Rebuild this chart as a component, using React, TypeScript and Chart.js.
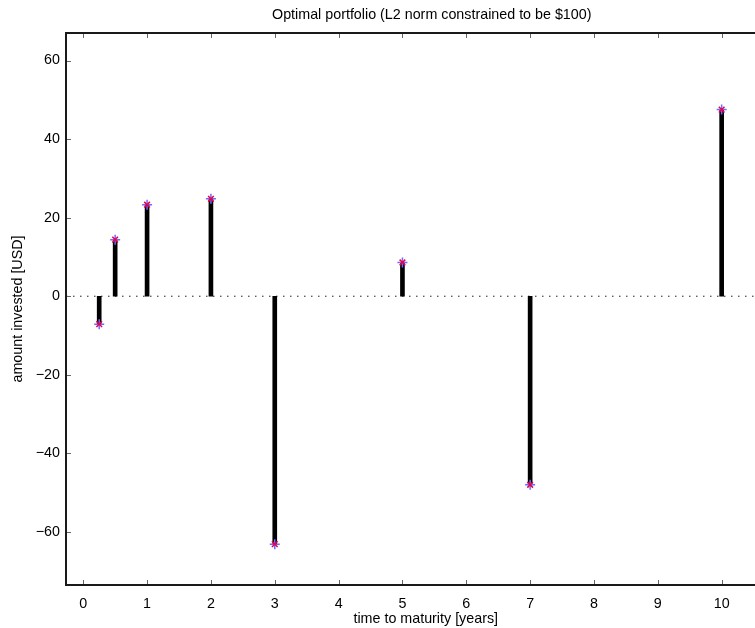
import React, { useEffect, useRef } from "react";
import { Chart, registerables } from "chart.js";

Chart.register(...registerables);

const maturities = [0.25, 0.5, 1, 2, 3, 5, 7, 10];
const amounts = [-7.1, 14.4, 23.3, 24.8, -63.1, 8.6, -48.0, 47.5];
const xTicks = [0, 1, 2, 3, 4, 5, 6, 7, 8, 9, 10];
const yTicks = [-60, -40, -20, 0, 20, 40, 60];
const X_MIN = -0.27;
const X_MAX = 11.0;
const Y_MIN = -73.5;
const Y_MAX = 67;
const TITLE = "Optimal portfolio (L2 norm constrained to be $100)";
const X_LABEL = "time to maturity [years]";
const Y_LABEL = "amount invested [USD]";

const FONT = "'Liberation Sans', Arial, Helvetica, sans-serif";
const FS = 14.3;

const axesPlugin = {
  id: "matlabAxes",
  afterDatasetsDraw(chart: any) {
    const { ctx, chartArea, scales } = chart;
    const { left, right, top, bottom } = chartArea;
    const xs = scales.x;
    const ys = scales.y;
    ctx.save();
    ctx.strokeStyle = "#666";
    ctx.lineWidth = 1;
    const tl = 5;
    ctx.beginPath();
    xTicks.forEach((t) => {
      const px = Math.round(xs.getPixelForValue(t)) + 0.5;
      if (px < left || px > right) return;
      ctx.moveTo(px, bottom);
      ctx.lineTo(px, bottom - tl);
      ctx.moveTo(px, top);
      ctx.lineTo(px, top + tl);
    });
    yTicks.forEach((t) => {
      const py = Math.round(ys.getPixelForValue(t)) + 0.5;
      ctx.moveTo(left, py);
      ctx.lineTo(left + tl, py);
    });
    ctx.stroke();
    ctx.strokeStyle = "#1a1a1a";
    ctx.lineWidth = 2;
    ctx.beginPath();
    ctx.moveTo(left, top);
    ctx.lineTo(left, bottom);
    ctx.moveTo(left - 1, bottom);
    ctx.lineTo(right, bottom);
    ctx.moveTo(left - 1, top);
    ctx.lineTo(right, top);
    ctx.stroke();
    ctx.fillStyle = "#000";
    ctx.font = `${FS}px ${FONT}`;
    ctx.textAlign = "center";
    ctx.textBaseline = "middle";
    ctx.fillText(TITLE, (left + right) / 2 + 6, 15);
    ctx.restore();
  },
};

export default function App() {
  const ref = useRef<HTMLCanvasElement | null>(null);
  useEffect(() => {
    if (!ref.current) return;
    const pts = maturities.map((m, i) => ({ x: m, y: amounts[i] }));
    const chart = new Chart(ref.current, {
      type: "bar",
      data: {
        datasets: [
          {
            type: "scatter",
            label: "x",
            data: pts,
            pointStyle: "crossRot",
            pointRadius: 4,
            borderColor: "#e8004a",
            backgroundColor: "#e8004a",
            borderWidth: 1.5,
            order: 0,
          } as any,
          {
            type: "scatter",
            label: "plus",
            data: pts,
            pointStyle: "cross",
            pointRadius: 5,
            borderColor: "#6b6bff",
            backgroundColor: "#6b6bff",
            borderWidth: 1.5,
            order: 1,
          } as any,
          {
            type: "bar",
            label: "stems",
            data: pts,
            backgroundColor: "#000",
            barThickness: 4,
            order: 2,
          } as any,
          {
            type: "line",
            label: "zero",
            data: [
              { x: X_MIN, y: 0 },
              { x: X_MAX, y: 0 },
            ],
            borderColor: "#222",
            borderWidth: 1,
            borderDash: [1.5, 5.5],
            pointRadius: 0,
            fill: false,
            order: 3,
          } as any,
        ],
      },
      options: {
        responsive: false,
        animation: false,
        events: [],
        layout: { padding: { top: 33, right: 2, left: 0, bottom: 0 } },
        plugins: {
          legend: { display: false },
          title: { display: false },
          tooltip: { enabled: false },
        },
        scales: {
          x: {
            type: "linear",
            min: X_MIN,
            max: X_MAX,
            offset: false,
            grid: { display: false, drawTicks: false },
            border: { display: false },
            afterFit: (s: any) => {
              s.height = 43;
              s.paddingLeft = 0;
              s.paddingRight = 0;
            },
            afterBuildTicks: (s: any) => {
              s.ticks = xTicks.map((v) => ({ value: v }));
            },
            ticks: {
              padding: 10,
              color: "#000",
              font: { family: FONT, size: FS },
              maxRotation: 0,
              autoSkip: false,
            },
            title: {
              display: true,
              text: X_LABEL,
              color: "#000",
              font: { family: FONT, size: FS },
              padding: { top: 0, bottom: 0 },
            },
          },
          y: {
            type: "linear",
            min: Y_MIN,
            max: Y_MAX,
            grid: { display: false, drawTicks: false },
            border: { display: false },
            afterFit: (s: any) => {
              s.width = 66;
              s.paddingTop = 0;
              s.paddingBottom = 0;
            },
            afterBuildTicks: (s: any) => {
              s.ticks = yTicks.map((v) => ({ value: v }));
            },
            ticks: {
              padding: 6,
              color: "#000",
              font: { family: FONT, size: FS },
              callback: (v: any) => (Number(v) < 0 ? "\u2212" + Math.abs(Number(v)) : String(v)),
            },
            title: {
              display: true,
              text: Y_LABEL,
              color: "#000",
              font: { family: FONT, size: FS },
              padding: { top: 9, bottom: 0 },
            },
          },
        },
      },
      plugins: [axesPlugin],
    });
    return () => chart.destroy();
  }, []);
  return (
    <div
      style={{
        position: "fixed",
        left: 0,
        top: 0,
        width: 755,
        height: 628,
        overflow: "hidden",
        background: "#fff",
      }}
    >
      <canvas ref={ref} width={792} height={628} style={{ width: 792, height: 628, display: "block" }} />
    </div>
  );
}
